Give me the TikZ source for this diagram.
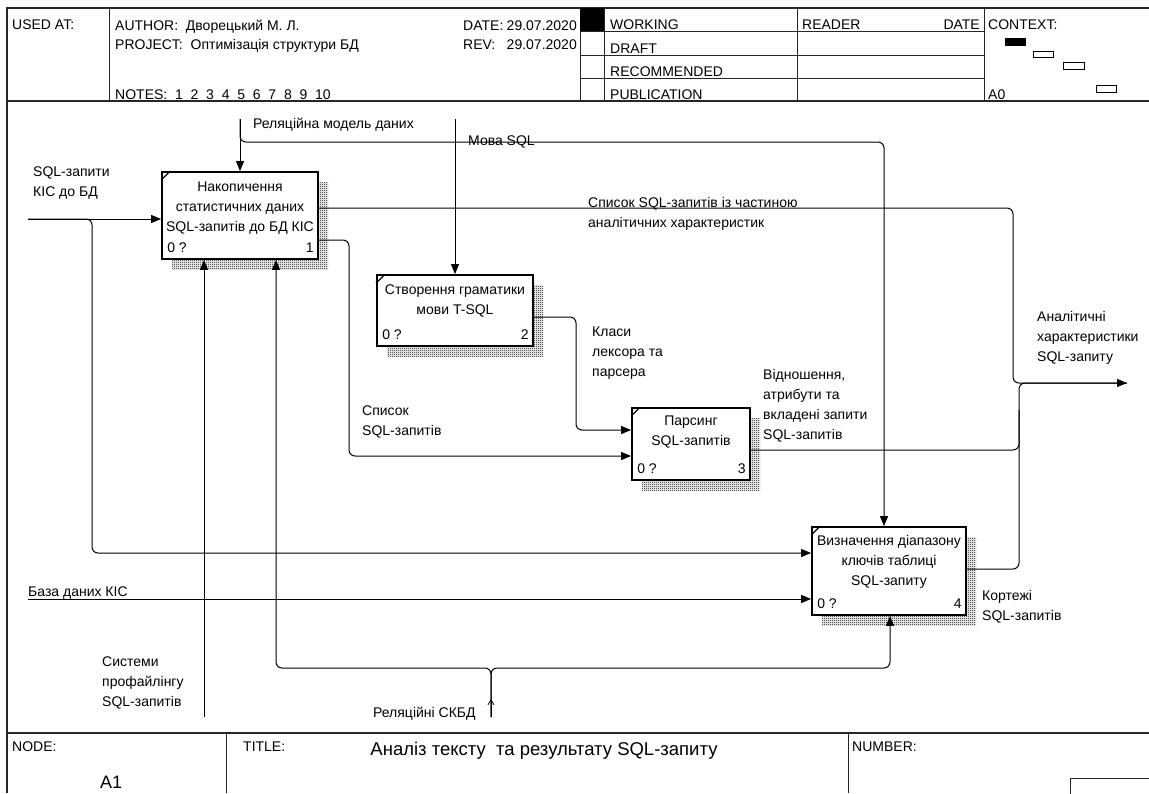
\documentclass[tikz,border=0pt]{standalone}
\usepackage{fontspec}
\setmainfont{Liberation Sans}
\usetikzlibrary{arrows.meta,patterns.meta,shadows}

% fine checker texture used for the box shadows
\tikzdeclarepattern{
  name=checker,
  type=uncolored,
  bounding box={(0pt,0pt) and (2pt,2pt)},
  tile size={(2pt,2pt)},
  code={
    \pgfpathrectangle{\pgfpoint{0pt}{0pt}}{\pgfpoint{1pt}{1pt}}
    \pgfpathrectangle{\pgfpoint{1pt}{1pt}}{\pgfpoint{1pt}{1pt}}
    \pgfusepath{fill}
  }
}

\begin{document}
\begin{tikzpicture}[x=1pt,y=-1pt,
  every node/.style={inner sep=0pt},
  rule/.style={line width=1.2pt, draw=black!85},
  cell/.style={line width=0.9pt, draw=black!85},
  hdr/.style={font=\fontsize{14}{16}\selectfont, anchor=base west},
  hdre/.style={font=\fontsize{14}{16}\selectfont, anchor=base east},
  lbl/.style={font=\fontsize{14}{20}\selectfont, align=left, anchor=north west},
  lbl1/.style={font=\fontsize{14}{20}\selectfont, anchor=base west},
  func/.style={draw, line width=1.8pt, fill=white, minimum width=156pt, minimum height=87pt,
    general shadow={shadow xshift=10pt, shadow yshift=-10pt, pattern=checker, pattern color=black}},
  ftext/.style={font=\fontsize{14}{20}\selectfont, align=center, anchor=north},
  fnum/.style={font=\fontsize{14}{16}\selectfont},
  flow/.style={line width=1pt, rounded corners=6pt},
  tip/.style={-{Triangle[length=10pt,width=8pt]}},
]
\useasboundingbox (0,0) rectangle (1149,793);
\fill[white] (0,0) rectangle (1149,793);

% ---------- form frame ----------
\draw[rule] (7,793) -- (7,8) -- (1149,8);
\draw[rule] (7,101) -- (1149,101);
\draw[rule] (7,733) -- (1149,733);
\foreach \x in {109,580,604,797,984} \draw[cell] (\x,8) -- (\x,101);
\foreach \y in {31,55,78} \draw[cell] (580,\y) -- (984,\y);
\fill (580,8) rectangle (604,31);
\draw[cell] (226,733) -- (226,793);
\draw[cell] (848,733) -- (848,793);
\draw[cell] (1070,778) rectangle (1160,800);

% context map
\fill (1005,38) rectangle (1026,46);
\draw[line width=0.8pt] (1033,51) rectangle (1053,57);
\draw[line width=0.8pt] (1063,62) rectangle (1084,69);
\draw[line width=0.8pt] (1096,85) rectangle (1116,92);

% header texts
\node[hdr] (usedat) at (12,29) {USED AT:};
\node[hdr] (author) at (115,30) {AUTHOR:\ \ Дворецький М. Л.};
\node[hdr] (project) at (115,49) {PROJECT:\ \ Оптимізація структури БД};
\node[hdr] (notes) at (115,99) {NOTES:\ \ 1\ \ 2\ \ 3\ \ 4\ \ 5\ \ 6\ \ 7\ \ 8\ \ 9\ \ 10};
\node[hdr] (datek) at (463,30) {DATE:};
\node[hdre] (datev) at (577,30) {29.07.2020};
\node[hdr] (revk) at (463,49) {REV:};
\node[hdre] (revv) at (577,49) {29.07.2020};
\node[hdr] (working) at (610,29) {WORKING};
\node[hdr] (draft) at (610,53) {DRAFT};
\node[hdr] (recom) at (610,76) {RECOMMENDED};
\node[hdr] (publ) at (610,99) {PUBLICATION};
\node[hdr] (reader) at (802,29) {READER};
\node[hdre] (rdate) at (980,29) {DATE};
\node[hdr] (context) at (988,29) {CONTEXT:};
\node[hdr] (ctxnode) at (988,99) {A0};

% footer texts
\node[hdr] (nodek) at (12,751) {NODE:};
\node[hdr] (titlek) at (243,751) {TITLE:};
\node[hdr] (numk) at (852,751) {NUMBER:};
\node[font=\fontsize{18.5}{20}\selectfont, anchor=base] (title) at (544,755) {Аналіз тексту\ \ та результату SQL-запиту};
\node[font=\fontsize{18}{20}\selectfont, anchor=base west] (nodeid) at (100,788) {A1};

% ---------- activity boxes ----------
\node[func] (b1) at (240,215.5) {};
\node[func, minimum height=71pt] (b2) at (455,310.5) {};
\node[func, minimum width=118pt, minimum height=72pt] (b3) at (691,444) {};
\node[func, minimum width=154pt, minimum height=88pt] (b4) at (889,571) {};
\foreach \b in {b1,b2,b3,b4}
  \draw[line width=1.2pt] ([yshift=-9pt]\b.north west) -- ([xshift=9pt]\b.north west);

\node[ftext] (t1) at ([yshift=-11pt]b1.north) {Накопичення\\статистичних даних\\SQL-запитів до БД КІС};
\node[ftext] (t2) at ([yshift=-10pt]b2.north) {Створення граматики\\мови T-SQL};
\node[ftext] (t3) at ([yshift=-9pt]b3.north) {Парсинг\\SQL-запитів};
\node[ftext] (t4) at ([yshift=-9pt]b4.north) {Визначення діапазону\\ключів таблиці\\SQL-запиту};

\foreach \b/\n in {b1/1,b2/2,b3/3,b4/4}{
  \node[fnum, anchor=base west] (\b o) at ([xshift=6pt,yshift=7pt]\b.south west) {0 ?};
  \node[fnum, anchor=base east] (\b n) at ([xshift=-5pt,yshift=7pt]\b.south east) {\n};
}

% ---------- boundary points and bends ----------
\coordinate (inSQL) at (28,219);
\coordinate (fkA) at (92,553);
\coordinate (ctlRM) at (240,119);
\coordinate (rmBend) at (884,142);
\coordinate (ctlSQL) at (455,119);
\coordinate (o1a) at (1013,208);
\coordinate (outA) at (1127,383);
\coordinate (o4) at (1019,569);
\coordinate (o3) at (1019,450);
\coordinate (o3end) at (1019,410);
\coordinate (o1b) at (349,240);
\coordinate (o1c) at (349,456);
\coordinate (o2a) at (576,317);
\coordinate (o2b) at (576,430);
\coordinate (inDB) at (28,599);
\coordinate (mSys) at (204,717);
\coordinate (mDB) at (491,717);
\coordinate (mj) at (491,668);
\coordinate (mL) at (276,668);
\coordinate (mR) at (890,668);

% inputs
\draw[flow,tip] (inSQL) -- (inSQL -| b1.west);
\draw[flow,tip] (inSQL) -- (inSQL -| fkA) -- (fkA) -- (fkA -| b4.west);
\draw[flow,tip] (inDB) -- (inDB -| b4.west);
\draw[flow,tip] (b1.east |- o1b) -- (o1b) -- (o1c) -- (o1c -| b3.west);
\draw[flow,tip] (b2.east |- o2a) -- (o2a) -- (o2b) -- (o2b -| b3.west);

% controls
\draw[flow,tip] (ctlRM) -- (b1.north);
\draw[flow,tip] (ctlRM) -- (ctlRM |- rmBend) -- (rmBend) -- (rmBend |- b4.north);
\draw[flow,tip] (ctlSQL) -- (b2.north);

% outputs
\draw[flow,tip] (b1.east |- o1a) -- (o1a) -- (o1a |- outA) -- (outA);
\draw[flow] (b4.east |- o4) -- (o4) -- (o4 |- outA) -- (outA);
\draw[flow] (b3.east |- o3) -- (o3) -- (o3end);

% mechanisms
\draw[flow,tip] (mSys) -- (mSys |- b1.south);
\draw[flow,tip] (mDB) -- (mj) -- (mL) -- (mL |- b1.south);
\draw[flow,tip] (mDB) -- (mj) -- (mR) -- (mR |- b4.south);
\draw[line width=0.8pt, -{Straight Barb[length=5pt,width=6pt]}] (mDB) -- ++(0,-18);

% ---------- arrow labels ----------
\node[lbl] (lSQL) at (33,167) {SQL-запити\\КІС до БД};
\node[lbl1] (lRM) at (253,128) {Реляційна модель даних};
\node[lbl1] (lMova) at (468,145) {Мова SQL};
\node[lbl] (lList1) at (588,197) {Список SQL-запитів із частиною\\аналітичних характеристик};
\node[lbl] (lAn) at (1037,311) {Аналітичні\\характеристики\\SQL-запиту};
\node[lbl] (lCl) at (592,327) {Класи\\лексора та\\парсера};
\node[lbl] (lRel) at (763,369) {Відношення,\\атрибути та\\вкладені запити\\SQL-запитів};
\node[lbl] (lList2) at (362,406) {Список\\SQL-запитів};
\node[lbl1] (lDB) at (28,596) {База даних КІС};
\node[lbl] (lKort) at (982,590) {Кортежі\\SQL-запитів};
\node[lbl] (lSys) at (102,657) {Системи\\профайлінгу\\SQL-запитів};
\node[lbl1] (lRDB) at (373,717) {Реляційні СКБД};
\end{tikzpicture}
\end{document}
